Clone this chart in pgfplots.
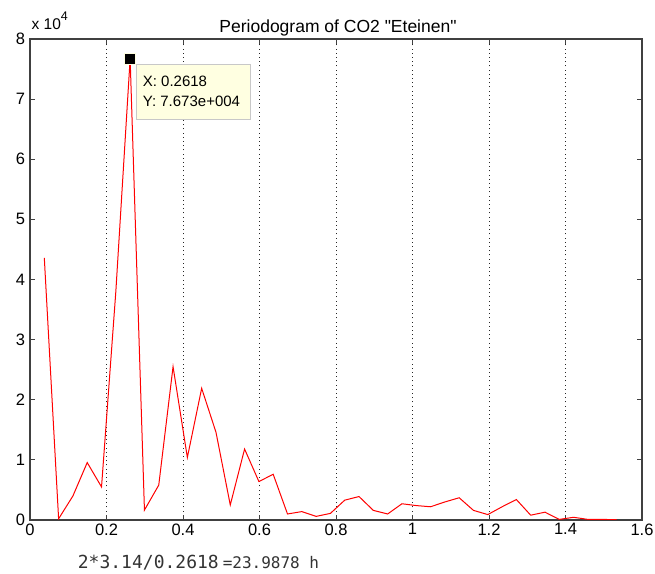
\documentclass[border=0pt]{standalone}
\usepackage{fontspec}
\setmainfont{Liberation Sans}[Ligatures=TeXOff]
\newfontfamily\monofont{DejaVu Sans Mono}
\usepackage{pgfplots}
\pgfplotsset{compat=1.18}
\definecolor{tipbg}{HTML}{FFFFE1}
\definecolor{tipbd}{HTML}{C8C8C8}
\definecolor{axgray}{HTML}{404040}
\begin{document}
\begin{tikzpicture}
\useasboundingbox (0,0) rectangle (655bp,574bp);
\begin{axis}[
  at={(30bp,54bp)}, anchor=south west,
  scale only axis, width=612bp, height=481bp,
  xmin=0, xmax=1.6, ymin=0, ymax=80000,
  xtick={0,0.2,0.4,0.6,0.8,1,1.2,1.4,1.6},
  xticklabels={0,0.2,0.4,0.6,0.8,1,1.2,1.4,1.6},
  ytick={0,10000,20000,30000,40000,50000,60000,70000,80000},
  yticklabels={0,1,2,3,4,5,6,7,8},
  scaled y ticks=false,
  /pgf/number format/assume math mode=true,
  xmajorgrids,
  major grid style={black!85, dash pattern=on 1bp off 3.2bp, line width=0.9bp},
  axis line style={axgray, line width=1.1bp},
  tick style={axgray, line width=1bp},
  major tick length=5bp,
  ticklabel style={font=\fontsize{16.5bp}{18bp}\selectfont, text=black},
  yticklabel style={xshift=-1.5bp},
]
\addplot[red, line width=1bp] table {
x y
0.0374 43600
0.0748 200
0.1122 4000
0.1496 9550
0.1870 5500
0.2244 38000
0.2618 76730
0.2992 1650
0.3366 5800
0.3740 25500
0.4114 10400
0.4488 21900
0.4862 14600
0.5236 2500
0.5610 11800
0.5984 6400
0.6358 7600
0.6732 1000
0.7106 1400
0.7480 600
0.7854 1100
0.8228 3300
0.8602 3900
0.8976 1600
0.9350 1000
0.9724 2700
1.0098 2400
1.0472 2200
1.0846 3000
1.1220 3700
1.1594 1600
1.1968 900
1.2342 2200
1.2716 3400
1.3090 800
1.3464 1300
1.3838 100
1.4212 450
1.4586 100
1.4960 100
1.5334 50
};
\addplot[only marks, mark=square*, mark size=5.5bp, mark options={fill=black, draw=tipbg, line width=0.8bp}] coordinates {(0.2618,76730)};
\draw[fill=tipbg, draw=tipbd, line width=0.9bp] (0.2790,75783) rectangle (0.5770,66690);
\node[anchor=base west, inner sep=0pt, font=\fontsize{15bp}{17bp}\selectfont] at (0.2946,72060) {X: 0.2618};
\node[anchor=base west, inner sep=0pt, font=\fontsize{15bp}{17bp}\selectfont] at (0.2946,68850) {Y: 7.673e+004};
\end{axis}
\node[anchor=base, inner sep=0pt, font=\fontsize{17.5bp}{19bp}\selectfont] at (338bp,541.5bp) {Periodogram of CO2 "Eteinen"};
\node[anchor=base west, inner sep=0pt, font=\fontsize{15.5bp}{17bp}\selectfont] at (31.5bp,544bp) {x 10\raisebox{9.5bp}{\fontsize{12.5bp}{13bp}\selectfont 4}};
\node[anchor=base west, inner sep=0pt, text=black!80] at (77.7bp,5.7bp) {\monofont\fontsize{18bp}{20bp}\selectfont 2*3.14/0.2618\kern4bp\fontsize{16bp}{18bp}\selectfont =23.9878 h};
\end{tikzpicture}
\end{document}
